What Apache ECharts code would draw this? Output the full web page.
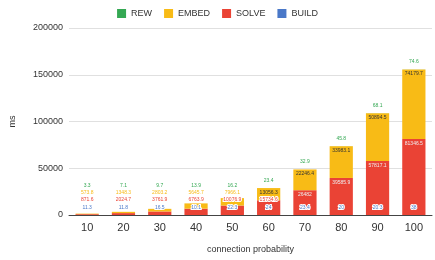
<!DOCTYPE html>
<html>
<head>
<meta charset="utf-8">
<script src="https://cdn.jsdelivr.net/npm/echarts@6/dist/echarts.min.js"></script>
<style>
html, body { margin: 0; padding: 0; background: #fff; }
#chart { width: 435px; height: 260px; }
</style>
</head>
<body>
<div id="chart"></div>
<script>
var categories = ["10", "20", "30", "40", "50", "60", "70", "80", "90", "100"];
var rew = [3.3, 7.1, 9.7, 13.9, 16.2, 23.4, 32.9, 45.8, 68.1, 74.6];
var embed = [573.8, 1348.3, 2803.2, 5645.7, 7966.1, 13056.3, 22246.4, 33983.1, 50894.5, 74179.7];
var solve = [871.6, 2024.7, 3761.9, 6763.9, 10076.9, 15734.6, 26482, 39585.9, 57817.1, 81346.5];
var build = [11.3, 11.8, 16.5, 10.1, 22.3, 24.0, 23.4, 20.0, 20.3, 38];
var yMax = 200000;
var yStep = 50000;

var chart = echarts.init(document.getElementById("chart"));

// bottom to top
var stack = [
  { name: "BUILD", data: build, color: "#4a78c8", pos: "top", dist: 7.6 },
  { name: "SOLVE", data: solve, color: "#ea4335", pos: "insideTop", dist: 4.4 },
  { name: "EMBED", data: embed, color: "#f8bb16", pos: "insideTop", dist: 4.4 },
  { name: "REW", data: rew, color: "#34a853", pos: "top", dist: 7.6 }
];
var labelGap = 7.3;
var movedY = [[], [], [], []];

function layoutFor(si) {
  return function (p) {
    var y = movedY[si][p.dataIndex];
    if (y == null) return {};
    return { x: p.rect.x + p.rect.width / 2, y: y };
  };
}

var font = "'Liberation Sans', Arial, sans-serif";

var option = {
  animation: false,
  textStyle: { fontFamily: font },
  color: stack.map(function (s) { return s.color; }),
  legend: {
    data: ["REW", "EMBED", "SOLVE", "BUILD"],
    top: 4,
    itemWidth: 9,
    itemHeight: 9,
    itemGap: 12,
    icon: "rect",
    textStyle: { fontSize: 9, color: "#333" }
  },
  grid: { left: 68, right: 3, top: 28, bottom: 45 },
  xAxis: {
    type: "category",
    data: categories,
    name: "connection probability",
    nameLocation: "middle",
    nameGap: 30,
    nameTextStyle: { fontSize: 9, color: "#333" },
    axisLine: { lineStyle: { color: "#444" } },
    axisTick: { show: false },
    axisLabel: { fontSize: 11, color: "#333", margin: 7 }
  },
  yAxis: {
    type: "value",
    min: 0,
    max: yMax,
    interval: yStep,
    name: "ms",
    nameLocation: "middle",
    nameGap: 52,
    nameTextStyle: { fontSize: 9, color: "#333" },
    axisLine: { show: false },
    axisTick: { show: false },
    axisLabel: { fontSize: 9, color: "#333", margin: 6, formatter: function (v) { return String(v); } },
    splitLine: { lineStyle: { color: "#e0e0e0" } }
  },
  series: stack.map(function (s, i) {
    var label = {
      show: true,
      position: s.pos,
      distance: s.dist,
      fontSize: 5,
      align: "center",
      verticalAlign: "middle"
    };
    if (s.pos === "top") {
      label.color = s.color;
      label.textBorderColor = "#fff";
      label.textBorderWidth = 2;
    }
    return {
      name: s.name,
      type: "bar",
      stack: "total",
      barCategoryGap: "36%",
      data: s.data,
      label: label,
      labelLayout: layoutFor(i)
    };
  })
};

chart.setOption(option);

// push overlapping labels upward, bar by bar; moved labels get outside colours
function spreadLabels() {
  var items = stack.map(function (s) {
    return s.data.map(function (v) { return { value: v }; });
  });
  for (var d = 0; d < categories.length; d++) {
    var sum = 0;
    var prev = null;
    for (var si = 0; si < stack.length; si++) {
      sum += stack[si].data[d];
      var segTop = chart.convertToPixel({ gridIndex: 0 }, [d, sum])[1];
      var c = stack[si].pos === "top" ? segTop - stack[si].dist : segTop + stack[si].dist;
      if (prev != null && c > prev - labelGap) {
        c = prev - labelGap;
        movedY[si][d] = c;
        items[si][d].label = { color: stack[si].color, textBorderColor: "#fff", textBorderWidth: 2 };
      }
      prev = c;
    }
  }
  chart.setOption({
    series: items.map(function (data, i) { return { data: data, labelLayout: layoutFor(i) }; })
  });
}
spreadLabels();
</script>
</body>
</html>
